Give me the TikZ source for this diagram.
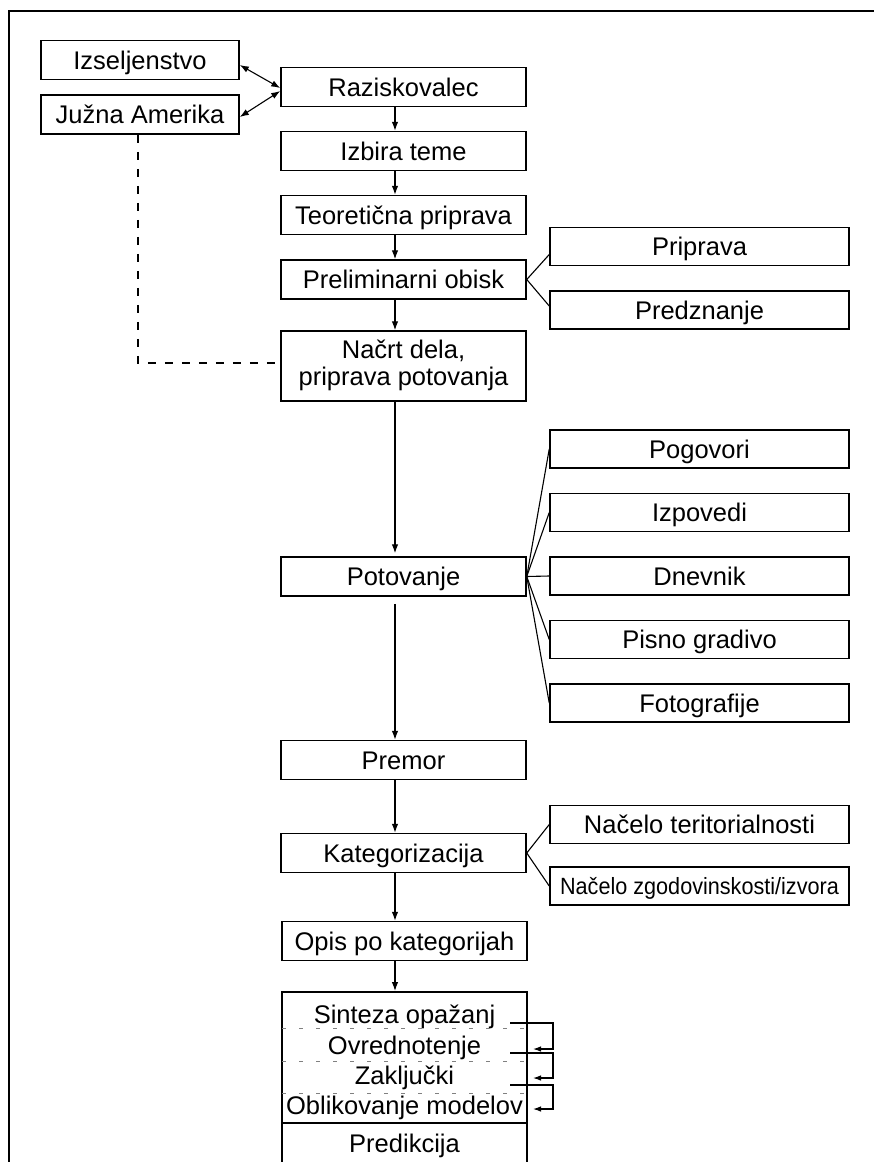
\documentclass[tikz,border=0pt]{standalone}
\usepackage{fontspec}
\setmainfont{Liberation Sans}
\usetikzlibrary{arrows.meta,calc}
\begin{document}
\begin{tikzpicture}[x=1pt,y=-1pt,
  box/.style={draw, line width=1.5pt, inner sep=0pt, text height=18.3pt, text depth=0pt, font=\fontsize{25.5}{27}\selectfont},
  mainbox/.style={box, minimum width=245pt, minimum height=39pt},
  sidebox/.style={box, minimum width=299pt, minimum height=38pt},
  leftbox/.style={box, minimum width=198pt, minimum height=39pt},
  lbl/.style={inner sep=0pt, font=\fontsize{25.5}{27}\selectfont},
  conn/.style={line width=1.1pt},
  arr/.style={conn, -{Latex[length=9pt,width=6.5pt]}},
  darr/.style={conn, {Latex[length=9pt,width=6.5pt]}-{Latex[length=9pt,width=6.5pt]}},
  sep/.style={line width=1pt, gray, dash pattern=on 4pt off 13pt},
]
\useasboundingbox (0,0) rectangle (874,1162);
% frame
\draw[line width=2pt] (9,1162) -- (9,11) -- (874,11);

% left column
\node[leftbox] (izs) at (140,60) {Izseljenstvo};
\node[leftbox] (juz) at (140,114.5) {Južna Amerika};

% main column
\node[mainbox] (raz) at (403.5,87) {Raziskovalec};
\node[mainbox] (izb) at (403.5,151) {Izbira teme};
\node[mainbox] (teo) at (403.5,215) {Teoretična priprava};
\node[mainbox] (pre) at (403.5,279.5) {Preliminarni obisk};
\node[mainbox, minimum height=70pt] (nac) at (403.5,366) {};
\node[lbl, anchor=base] (nac1) at (403.5,358) {Načrt dela,};
\node[lbl, anchor=base] (nac2) at (403.5,385) {priprava potovanja};
\node[mainbox] (pot) at (403.5,576.5) {Potovanje};
\node[mainbox] (prem) at (403.5,760) {Premor};
\node[mainbox] (kat) at (403.5,853) {Kategorizacija};
\node[mainbox] (opis) at (404.5,941) {Opis po kategorijah};
\node[mainbox, minimum height=182pt, anchor=north] (syn) at (404.5,991) {};
\node[lbl, anchor=base] (sint) at (404.5,1023) {Sinteza opažanj};
\node[lbl, anchor=base] (ovr) at (404.5,1054) {Ovrednotenje};
\node[lbl, anchor=base] (zak) at (404.5,1084) {Zaključki};
\node[lbl, anchor=base] (obl) at (404.5,1114) {Oblikovanje modelov};
\node[lbl, anchor=base] (predik) at (404.5,1152) {Predikcija};
\draw[sep] (282,1028) -- (527,1028);
\draw[sep] (282,1061) -- (527,1061);
\draw[sep] (282,1093) -- (527,1093);
\draw[line width=1.5pt] (282,1123) -- (527,1123);

% right column
\node[sidebox] (prip) at (699.5,246.5) {Priprava};
\node[sidebox] (predz) at (699.5,310) {Predznanje};
\node[sidebox] (pog) at (699.5,449) {Pogovori};
\node[sidebox] (izp) at (699.5,512.5) {Izpovedi};
\node[sidebox] (dnev) at (699.5,576) {Dnevnik};
\node[sidebox] (pis) at (699.5,639.5) {Pisno gradivo};
\node[sidebox] (foto) at (699.5,703) {Fotografije};
\node[sidebox] (nt) at (699.5,824.5) {Načelo teritorialnosti};
\node[sidebox, text height=16.8pt] (nz) at (699.5,886) {\scalebox{0.92}[1]{\fontsize{23.5}{25}\selectfont Načelo zgodovinskosti/izvora}};

% connectors
\draw[darr] ([yshift=-5pt]izs.east) -- ([yshift=-1pt]raz.west);
\draw[darr] ([yshift=-2.5pt]juz.east) -- ([yshift=-4pt]raz.west);
\draw[arr] ([xshift=-8.5pt]raz.south) -- ([xshift=-8.5pt]izb.north);
\draw[arr] ([xshift=-8.5pt]izb.south) -- ([xshift=-8.5pt]teo.north);
\draw[arr] ([xshift=-8.5pt]teo.south) -- ([xshift=-8.5pt]pre.north);
\draw[arr] ([xshift=-8.5pt]pre.south) -- ([xshift=-8.5pt]nac.north);
\draw[arr, shorten >=3pt] ([xshift=-8.5pt]nac.south) -- ([xshift=-8.5pt]pot.north);
\draw[arr, shorten <=7pt] ([xshift=-8.5pt]pot.south) -- ([xshift=-8.5pt]prem.north);
\draw[arr] ([xshift=-8.5pt]prem.south) -- ([xshift=-8.5pt]kat.north);
\draw[arr] ([xshift=-8.5pt]kat.south) -- ([xshift=-9.5pt]opis.north);
\draw[arr] ([xshift=-9.5pt]opis.south) -- ([xshift=-9.5pt]syn.north);

\draw[conn] (pre.east) -- ([yshift=-8pt]prip.west);
\draw[conn] (pre.east) -- ([yshift=4pt]predz.west);
\foreach \n in {pog,izp,dnev,pis,foto} \draw[conn] (pot.east) -- (\n.west);
\draw[conn] (kat.east) -- (nt.west);
\draw[conn] (kat.east) -- (nz.west);

\draw[conn, dash pattern=on 8pt off 9pt] ([xshift=-2pt]juz.south) |- ([yshift=3pt]nac.west);

% feedback arrows
\coordinate (f1a) at (510,1023); \coordinate (f1b) at (533,1049);
\coordinate (f2a) at (510,1053); \coordinate (f2b) at (533,1078);
\coordinate (f3a) at (510,1085); \coordinate (f3b) at (533,1109);
\draw[conn, -{Latex[length=8pt,width=5.5pt]}] (f1a) -- ++(43,0) |- (f1b);
\draw[conn, -{Latex[length=8pt,width=5.5pt]}] (f2a) -- ++(43,0) |- (f2b);
\draw[conn, -{Latex[length=8pt,width=5.5pt]}] (f3a) -- ++(43,0) |- (f3b);
\end{tikzpicture}
\end{document}
